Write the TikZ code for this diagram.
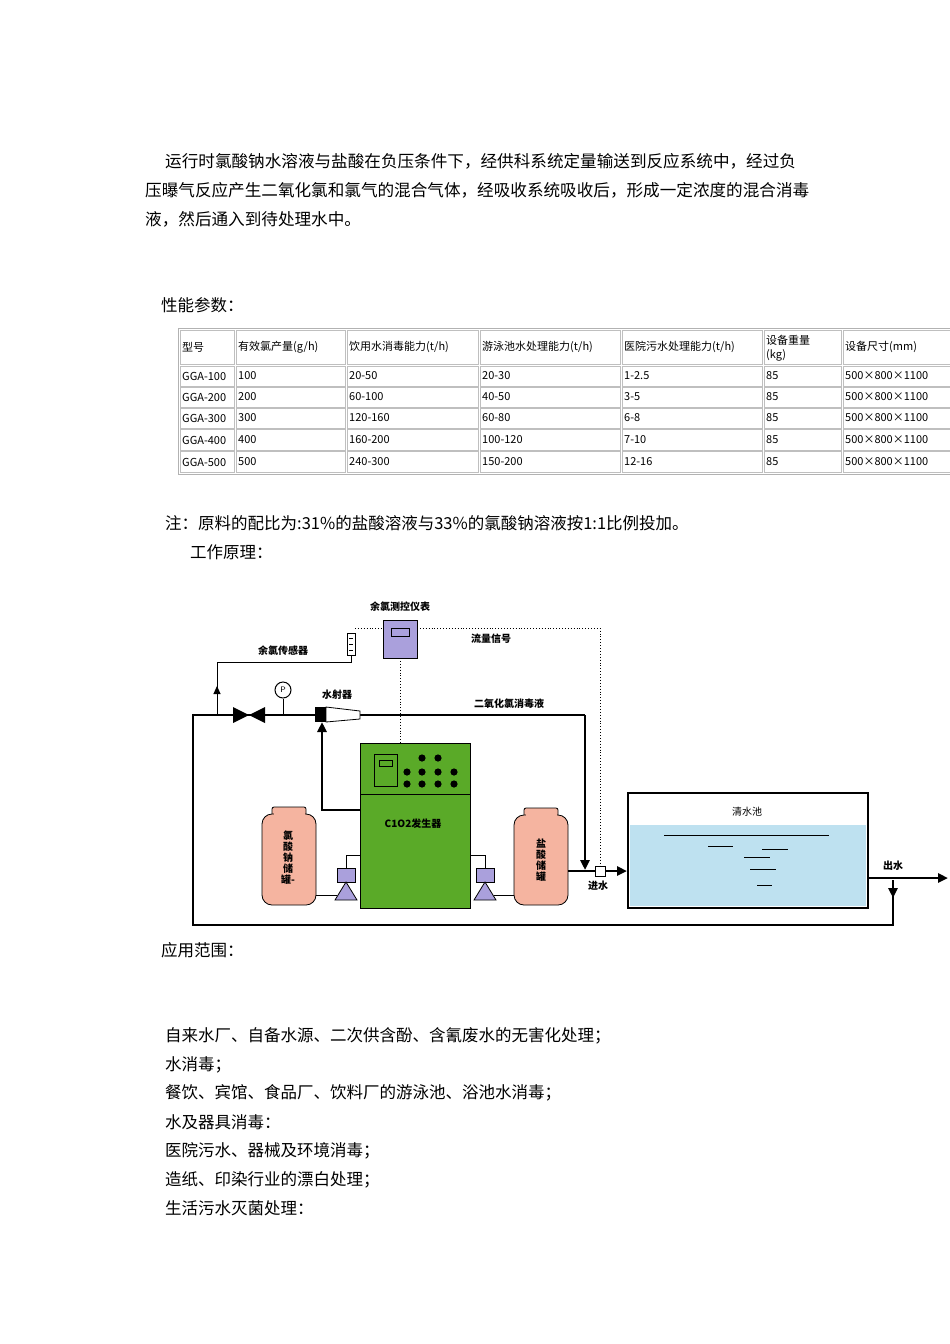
\documentclass[tikz,border=0pt]{standalone}
\usepackage{fontspec}
\setmainfont{Liberation Serif}
\newfontfamily\cjk{Noto Sans CJK SC}
\usetikzlibrary{arrows.meta}
\definecolor{gen}{RGB}{90,170,40}
\definecolor{tank}{RGB}{245,180,160}
\definecolor{pump}{RGB}{170,160,220}
\definecolor{water}{RGB}{190,225,240}
\tikzset{
 body/.style={anchor=west,inner sep=0,font=\cjk\fontsize{16.5}{16.5}\selectfont},
 para/.style={anchor=west,inner sep=0,font=\cjk\fontsize{16.6}{16.6}\selectfont},
 tcell/.style={anchor=west,inner sep=0,font=\cjk\fontsize{11}{11}\selectfont},
 lab/.style={inner sep=0,font=\cjk\bfseries\fontsize{10}{10}\selectfont},
 pipe/.style={line width=2.5pt},
 thin/.style={line width=1pt},
 dots/.style={dotted,line width=0.9pt},
 arr/.style={-{Triangle[length=10pt,width=9pt]}},
}
\begin{document}
\begin{tikzpicture}[x=1pt,y=-1pt]
\useasboundingbox (0,0) rectangle (950,1344);
\fill[white] (0,0) rectangle (950,1344);
% paragraph
\node[para] (p1) at (165,161) {运行时氯酸钠水溶液与盐酸在负压条件下，经供科系统定量输送到反应系统中，经过负};
\node[para] (p2) at (145,190) {压曝气反应产生二氧化氯和氯气的混合气体，经吸收系统吸收后，形成一定浓度的混合消毒};
\node[para] (p3) at (145,219) {液，然后通入到待处理水中。};
\node[body] (h1) at (161,305) {性能参数：};
% table
\draw[gray!60] (178,328) rectangle (960,474);
\foreach \y/\h in {330/364,366/386,387/407,408/428,429/450,451/472}{
 \foreach \a/\b in {180/234,236/345,347/478,480/620,622/762,764/841,843/960}{
  \draw[gray!50] (\a,\y) rectangle (\b,\h);}}
\node[tcell] (c1) at (182,347) {型号};
\node[tcell] (c2) at (238,347) {有效氯产量(g/h)};
\node[tcell] (c3) at (349,347) {饮用水消毒能力(t/h)};
\node[tcell] (c4) at (482,347) {游泳池水处理能力(t/h)};
\node[tcell] (c5) at (624,347) {医院污水处理能力(t/h)};
\node[tcell] (c6a) at (766,340) {设备重量};
\node[tcell] (c6b) at (766,355) {(kg)};
\node[tcell] (c7) at (845,347) {设备尺寸(mm)};
\foreach \y/\m/\g/\d/\s/\hh in {376/100/100/20-50/20-30/1-2.5, 397/200/200/60-100/40-50/3-5, 418/300/300/120-160/60-80/6-8, 440/400/400/160-200/100-120/7-10, 462/500/500/240-300/150-200/12-16}{
 \node[tcell] at (182,\y) {GGA-\m};
 \node[tcell] at (238,\y) {\g};
 \node[tcell] at (349,\y) {\d};
 \node[tcell] at (482,\y) {\s};
 \node[tcell] at (624,\y) {\hh};
 \node[tcell] at (766,\y) {85};
 \node[tcell] at (845,\y) {500×800×1100};
}
\node[body] (n1) at (165,523) {注：原料的配比为:31\%的盐酸溶液与33\%的氯酸钠溶液按1:1比例投加。};
\node[body] (n2) at (190,552) {工作原理：};
% ===== diagram =====
\fill[water] (630,825) rectangle (866,906);
\draw[line width=2pt] (628,793) rectangle (868,908);
\node[lab,font=\cjk\fontsize{10}{10}\selectfont] (qs) at (747,812) {清水池};
\foreach \a/\b/\y in {664/829/835,708/733/846,762/788/849,744/770/857,750/776/869,757/772/885}{\draw[thin] (\a,\y)--(\b,\y);}
% generator
\draw[thick,fill=gen] (360,743) rectangle (470,908);
\draw[thick] (360,794)--(470,794);
\draw[thick] (374,754) rectangle (397,786);
\draw[thick] (379,760) rectangle (392,766);
\foreach \x in {422,438}{\fill (\x,758) circle (3.6);}
\foreach \x in {407,422,438,454}{\fill (\x,772) circle (3.6);\fill (\x,784) circle (3.6);}
\node[lab] (gen) at (413,824) {C1O2发生器};
% tanks
\foreach \a/\t in {262/807,514/808}{
 \draw[thick,fill=tank,rounded corners=2pt] (\a+10,\t) rectangle (\a+44,\t+10);
 \draw[thick,fill=tank,rounded corners=10pt] (\a,\t+7) rectangle (\a+54,905);
 \fill[tank] (\a+11.5,\t+5) rectangle (\a+42.5,\t+9);
}
\node[lab,align=center,font=\cjk\bfseries\fontsize{10}{11}\selectfont] (lt) at (288,858) {氯\\酸\\钠\\储\\罐-};
\node[lab,align=center,font=\cjk\bfseries\fontsize{10}{11}\selectfont] (rt) at (541,860) {盐\\酸\\储\\罐};
% pumps
\foreach \c in {346,485}{
 \draw[thick,fill=pump] (\c-9,868) rectangle (\c+9,882);
 \draw[thick,fill=pump] (\c,882) -- (\c-11,900) -- (\c+11,900) -- cycle;}
\draw[thin] (346,868)--(346,855)--(360,855);
\draw[thin] (485,868)--(485,855)--(470,855);
\draw[thin] (316,895)--(337,895);
\draw[thin] (494,895)--(514,895);
% meter
\draw[thick,fill=pump] (383,620) rectangle (417,658);
\draw[thick] (391,628) rectangle (409,636);
\node[lab] (mt) at (400,607) {余氯测控仪表};
% sensor
\draw[thick,fill=white] (347,633) rectangle (355,655);
\foreach \y in {638,644,650}{\draw (349,\y)--(353,\y);}
\node[lab] (sn) at (283,651) {余氯传感器};
% dotted signals
\draw[dots] (355,628) -- (383,628);
\draw[dots] (417,628) -- (600,628) -- (600,866);
\draw[dots] (400,658) -- (400,743);
\node[lab] (fl) at (491,639) {流量信号};
% main pipes
\draw[pipe] (193,715) -- (315,715);
\draw[pipe] (360,715) -- (585,715);
\draw[pipe,arr] (585,715) -- (585,870);
\draw[pipe] (193,713.8) -- (193,925) -- (893,925) -- (893,895);
\draw[pipe,arr] (893,880) -- (893,898);
\draw[pipe,arr] (868,878) -- (948,878);
\draw[pipe,arr] (568,871) -- (627,871);
\draw[thin,fill=white] (595,866) rectangle (605,876);
\node[lab] (jin) at (598,886) {进水};
\node[lab] (chu) at (893,866) {出水};
% ejector branch
\draw[pipe] (360,810) -- (322,810) -- (322,735);
\draw[pipe,arr] (322,760) -- (322,722);
% ejector
\fill (315,707) rectangle (326,722);
\draw[thick,fill=white] (326,707) -- (360,711) -- (360,719) -- (326,722) -- cycle;
\node[lab] (ej) at (337,695) {水射器};
\node[lab] (cl) at (509,704) {二氧化氯消毒液};
% valves
\fill (233,707) -- (249,715) -- (233,723) -- cycle;
\fill (265,707) -- (249,715) -- (265,723) -- cycle;
% gauge
\draw[thin] (283,699) -- (283,715);
\draw[thin,fill=white] (283,690) circle (8);
\node[inner sep=0,font=\sffamily\fontsize{8}{8}\selectfont] (pg) at (283,690) {P};
% sensor line
\draw[thin] (351,655) -- (351,662) -- (217,662) -- (217,690);
\draw[thin,-{Triangle[length=8pt,width=7pt]}] (217,715) -- (217,686);
% bottom text
\node[body] (h2) at (161,950) {应用范围：};
\foreach \t/\y in {自来水厂、自备水源、二次供含酚、含氰废水的无害化处理；/1036,水消毒；/1065,餐饮、宾馆、食品厂、饮料厂的游泳池、浴池水消毒；/1093,水及器具消毒：/1122,医院污水、器械及环境消毒；/1151,造纸、印染行业的漂白处理；/1180,生活污水灭菌处理：/1208}{\node[body] at (165,\y) {\t};}
\end{tikzpicture}
\end{document}
